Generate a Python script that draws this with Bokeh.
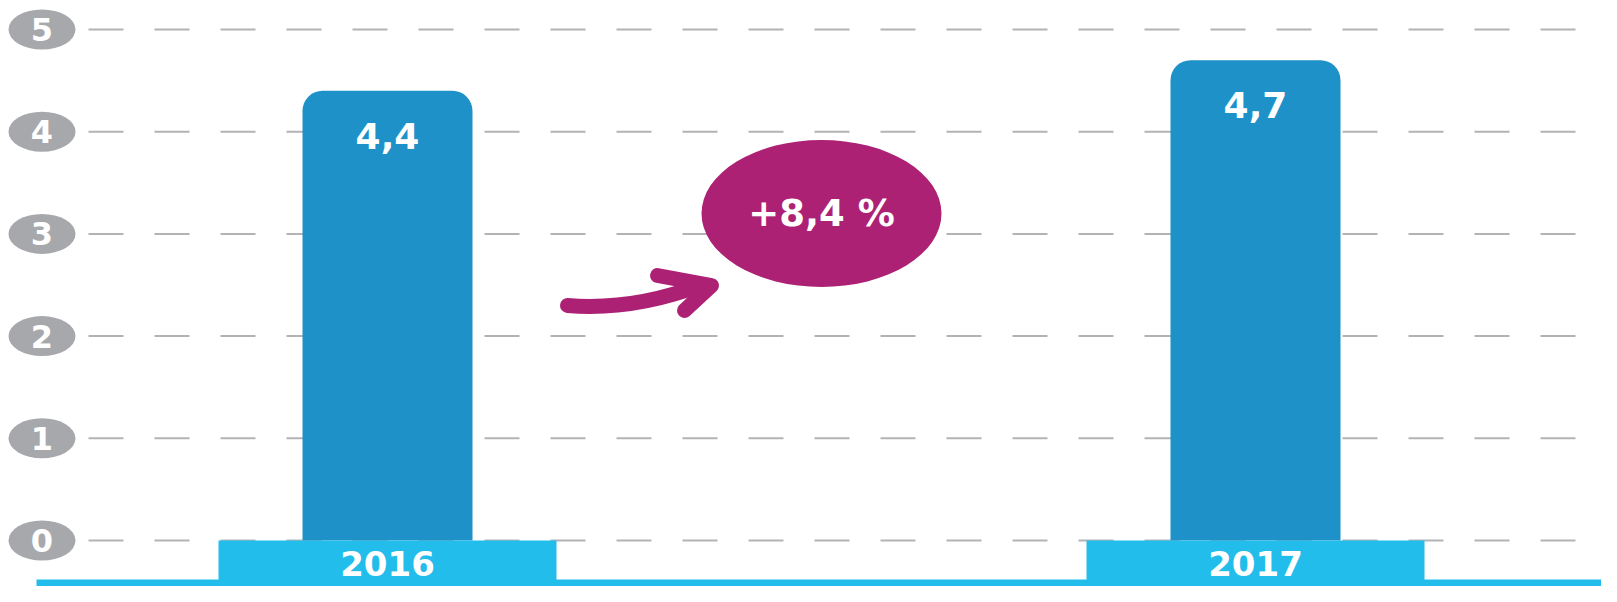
from bokeh.plotting import figure
from bokeh.models import Range1d, ColumnDataSource
from bokeh.core.properties import value
from bokeh.embed import file_html
from bokeh.resources import INLINE

# ---- data ----
years = ["2016", "2017"]
values = [4.4, 4.7]
value_labels = ["4,4", "4,7"]
ticks = [0, 1, 2, 3, 4, 5]
tick_labels = ["0", "1", "2", "3", "4", "5"]
change_label = "+8,4 %"

# ---- colours ----
BAR = "#1e92c8"
BOX = "#22bdeb"
MAG = "#ad2175"
GRID = "#b3b3b6"
OVAL = "#a7a8ac"
FONT = value("DejaVu Sans")

W, H = 1601, 586
XS = 868.0                  # px per category step
Y0 = 540.0                  # pixel row of value 0
YS = (Y0 - 29.0) / 5.0      # px per unit
x_start = -387 / XS
x_end = x_start + W / XS


def xd(px):
    return x_start + px / XS


def yd(py):
    return (Y0 - py) / YS


y_start, y_end = yd(H), yd(0)

p = figure(width=W, height=H, output_backend="svg", toolbar_location=None,
           x_range=Range1d(x_start, x_end), y_range=Range1d(y_start, y_end),
           x_axis_type=None, y_axis_type=None, min_border=0)
p.outline_line_color = None
p.xgrid.visible = False
p.ygrid.visible = False
p.background_fill_color = "white"

idx = list(range(len(years)))
src = ColumnDataSource(dict(x=idx, top=values, year=years, lab=value_labels))

# dashed gridlines
p.segment(x0=[xd(88)] * len(ticks), x1=[x_end] * len(ticks), y0=ticks, y1=ticks,
          line_color=GRID, line_width=2, line_dash="35 31")

# tick ovals with digits
p.ellipse(x=[xd(41.5)] * len(ticks), y=ticks, width=67 / XS, height=40 / YS,
          fill_color=OVAL, line_color=None)
p.text(x=[xd(41.5)] * len(ticks), y=ticks, text=tick_labels, text_color="white",
       text_font=FONT, text_font_style="bold", text_font_size="32px",
       text_align="center", text_baseline="middle")

# bars
p.vbar(x="x", top="top", bottom=0, width=170 / XS, source=src,
       fill_color=BAR, line_color=None, border_radius=(20, 20, 0, 0))
p.text(x="x", y="top", text="lab", source=src, y_offset=45, text_color="white",
       text_font=FONT, text_font_style="bold", text_font_size="36px",
       text_align="center", text_baseline="middle")

# year boxes and bottom strip
p.vbar(x="x", top=0, bottom=y_start, width=338 / XS, source=src,
       fill_color=BOX, line_color=None)
p.quad(left=[xd(36)], right=[x_end], bottom=[y_start], top=[yd(579)],
       fill_color=BOX, line_color=None)
p.text(x="x", y=0, text="year", source=src, y_offset=23, text_color="white",
       text_font=FONT, text_font_style="bold", text_font_size="34px",
       text_align="center", text_baseline="middle")

# change bubble
mid = sum(idx) / len(idx)
p.ellipse(x=[mid], y=[yd(213)], width=240 / XS, height=147 / YS,
          fill_color=MAG, line_color=None)
p.text(x=[mid], y=[yd(213)], text=[change_label], text_color="white",
       text_font=FONT, text_font_style="bold", text_font_size="37px",
       text_align="center", text_baseline="middle")

# arrow
p.bezier(x0=[xd(567)], y0=[yd(305)], x1=[xd(702)], y1=[yd(284)],
         cx0=[xd(615)], cy0=[yd(309)], cx1=[xd(660)], cy1=[yd(300)],
         line_color=MAG, line_width=15, line_cap="round")
p.line(x=[xd(657), xd(711), xd(684)], y=[yd(275), yd(285), yd(310)],
       line_color=MAG, line_width=15, line_cap="round", line_join="round")

open("out.html", "w").write(file_html(p, INLINE))
